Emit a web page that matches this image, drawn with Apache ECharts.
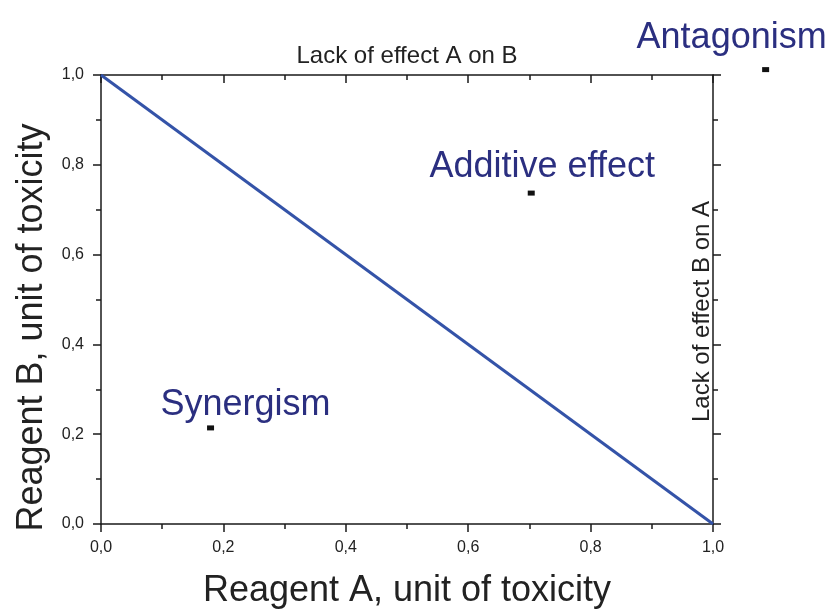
<!DOCTYPE html>
<html>
<head>
<meta charset="utf-8">
<script src="https://cdn.jsdelivr.net/npm/echarts@6/dist/echarts.min.js"></script>
<style>
  html, body { margin: 0; padding: 0; background: #fff; }
  #chart { width: 829px; height: 610px; }
</style>
</head>
<body>
<div id="chart"></div>
<script>
// Isobologram: additivity line between the two single-reagent toxicities
const additivityX = [0, 1];
const additivityY = [1, 0];

// Example combination effects
const effectNames = ['Synergism', 'Additive effect', 'Antagonism'];
const effectX = [0.179, 0.703, 1.086];
const effectY = [0.214, 0.737, 1.012];

// Axis tick values (shown with decimal comma)
const tickValues = [0, 0.2, 0.4, 0.6, 0.8, 1.0];

const FONT = 'Liberation Sans, Arial, sans-serif';
const AXIS_COLOR = '#1a1a1a';
const LABEL_COLOR = '#2b2f80';
const LINE_COLOR = '#3453a8';

// label placement relative to each marker, in pixels
const labelOffsets = [[35, -23], [11, -26], [-34, -32]];

const fmt = v => v.toFixed(1).replace('.', ',');

function baseAxis(extra) {
  return Object.assign({
    type: 'value',
    min: tickValues[0],
    max: tickValues[tickValues.length - 1],
    interval: 0.2,
    splitLine: { show: false },
    axisLine: { show: true, onZero: false, lineStyle: { color: AXIS_COLOR, width: 1.5 } },
    axisTick: { show: true, length: 8, lineStyle: { color: AXIS_COLOR, width: 1.5 } },
    minorTick: { show: true, splitNumber: 2, length: 5, lineStyle: { color: AXIS_COLOR, width: 1.5 } },
    axisLabel: {
      show: true, formatter: fmt, color: '#222',
      fontFamily: FONT, fontSize: 16, margin: 17
    }
  }, extra);
}

const chart = echarts.init(document.getElementById('chart'), null, { renderer: 'canvas' });

chart.setOption({
  animation: false,
  backgroundColor: '#ffffff',
  grid: {
    left: 101, right: 116, top: 75, bottom: 86,
    containLabel: false,
    outerBoundsMode: 'none'
  },
  xAxis: [
    baseAxis({
      position: 'bottom',
      name: 'Reagent A, unit of toxicity',
      nameLocation: 'middle',
      nameGap: 49,
      nameTextStyle: { fontFamily: FONT, fontSize: 36, color: '#222' },
      axisLabel: { show: true, formatter: fmt, color: '#222', fontFamily: FONT, fontSize: 16, margin: 16 }
    }),
    baseAxis({
      position: 'top',
      name: 'Lack of effect A on B',
      nameLocation: 'middle',
      nameGap: 7,
      nameTextStyle: { fontFamily: FONT, fontSize: 24, color: '#222' },
      axisLabel: { show: false },
      axisTick: { show: true, inside: true, length: 8, lineStyle: { color: AXIS_COLOR, width: 1.5 } },
      minorTick: { show: true, splitNumber: 2, length: 5, lineStyle: { color: AXIS_COLOR, width: 1.5 } }
    })
  ],
  yAxis: [
    baseAxis({
      position: 'left',
      name: 'Reagent B, unit of toxicity',
      nameLocation: 'middle',
      nameGap: 51,
      nameTextStyle: { fontFamily: FONT, fontSize: 36, color: '#222', padding: [0, 56, 0, 0] }
    }),
    baseAxis({
      position: 'right',
      name: 'Lack of effect B on A',
      nameLocation: 'middle',
      nameRotate: 90,
      nameGap: -23,
      nameTextStyle: { fontFamily: FONT, fontSize: 24, color: '#222', padding: [0, 24, 0, 0] },
      axisLabel: { show: false }
    })
  ],
  series: [
    {
      type: 'line',
      xAxisIndex: 0,
      yAxisIndex: 0,
      data: additivityX.map((x, i) => [x, additivityY[i]]),
      showSymbol: false,
      symbol: 'none',
      lineStyle: { color: LINE_COLOR, width: 3 },
      z: 3
    },
    {
      type: 'scatter',
      xAxisIndex: 0,
      yAxisIndex: 0,
      clip: false,
      symbol: 'rect',
      symbolSize: [7, 5],
      itemStyle: { color: '#111', opacity: 1 },
      data: effectNames.map((name, i) => ({
        name: name,
        value: [effectX[i], effectY[i]],
        label: {
          show: true,
          position: 'inside',
          offset: labelOffsets[i],
          formatter: '{b}',
          fontFamily: FONT,
          fontSize: 36,
          color: LABEL_COLOR
        }
      })),
      z: 4
    }
  ]
});
</script>
</body>
</html>
